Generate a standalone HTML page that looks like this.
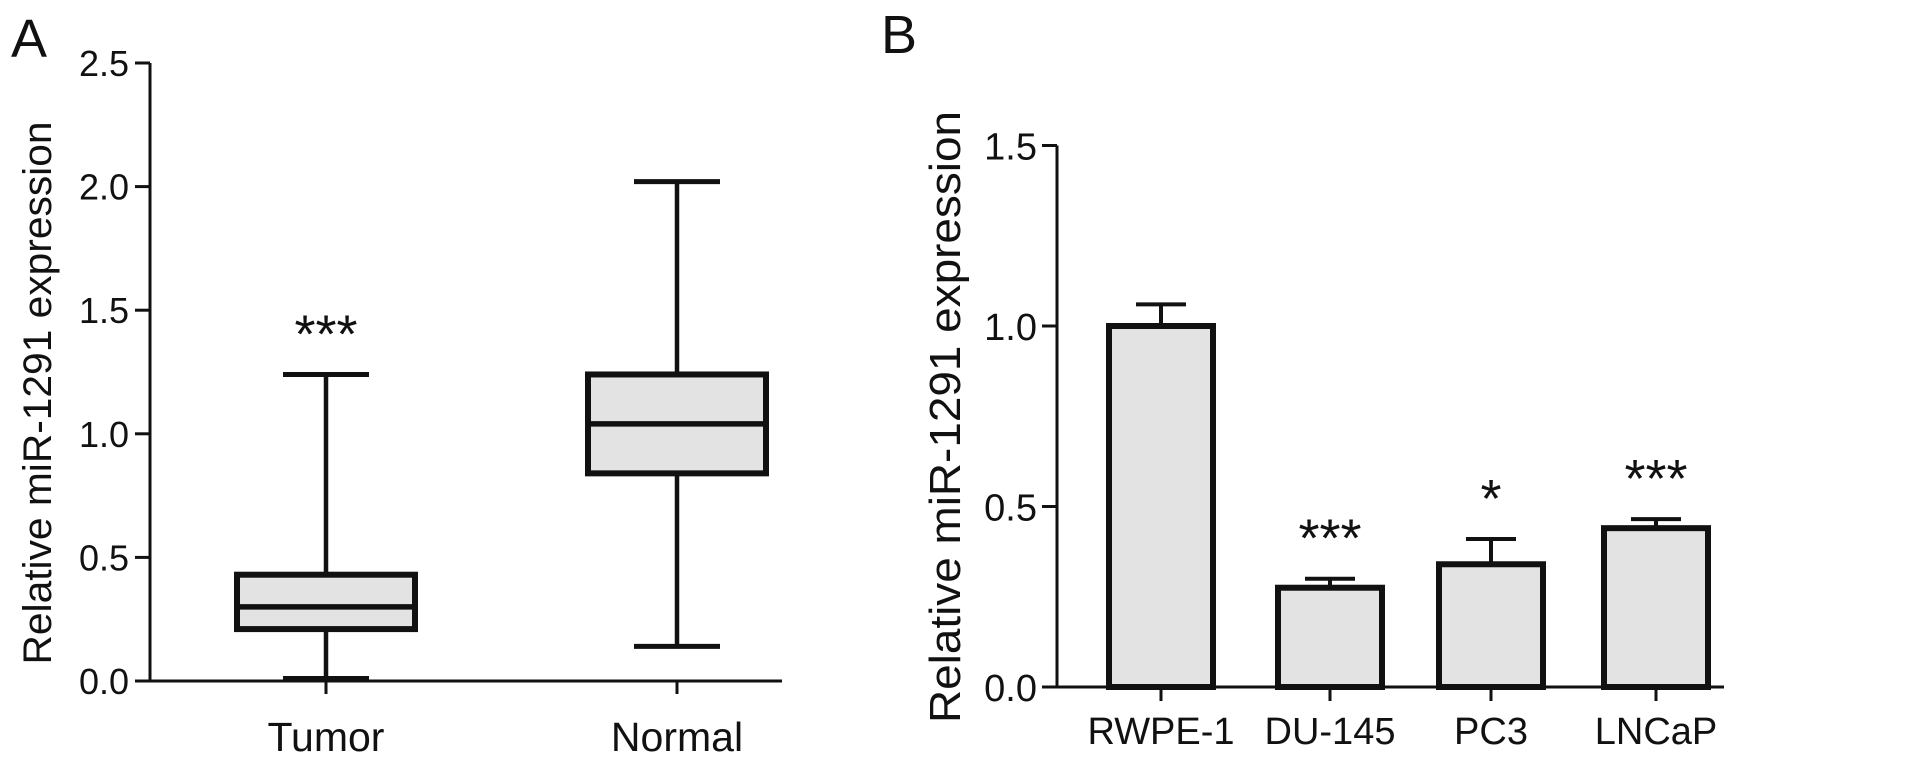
<!DOCTYPE html>
<html><head><meta charset="utf-8"><style>
html,body{margin:0;padding:0;background:#fff;}
svg{display:block;font-family:"Liberation Sans",sans-serif;}
</style></head><body>
<svg id="fig" width="1913" height="757" viewBox="0 0 1913 757">
<g id="A"></g>
<g id="B"></g>
</svg>
<script>
// Panel A data
const boxCats = ["Tumor","Normal"];
const boxMin = [0.01, 0.14];
const boxQ1 = [0.21, 0.84];
const boxMed = [0.30, 1.04];
const boxQ3 = [0.43, 1.24];
const boxMax = [1.24, 2.02];
const boxStars = ["***", ""];
const aTicks = [0, 0.5, 1.0, 1.5, 2.0, 2.5];
// Panel B data
const barCats = ["RWPE-1","DU-145","PC3","LNCaP"];
const barVals = [1.00, 0.275, 0.34, 0.44];
const barErr = [0.06, 0.025, 0.07, 0.025];
const barStars = ["", "***", "*", "***"];
const bTicks = [0, 0.5, 1.0, 1.5];

const NS="http://www.w3.org/2000/svg";
function mk(p,t,a){const e=document.createElementNS(NS,t);for(const k in a)e.setAttribute(k,a[k]);p.appendChild(e);return e;}
const C='#111';

// ---- Panel A
const gA=document.getElementById('A');
const ayA=v=>681-v*247.2;
const axA=150;
const boxCx=[326,677], boxW=178, capW=86;
let t=mk(gA,'text',{x:11,y:57,'font-size':54,fill:C});t.textContent='A';

let e=mk(gA,'line',{x1:axA,y1:ayA(0)+1.5,x2:axA,y2:ayA(2.5),stroke:C,'stroke-width':3});

e=mk(gA,'line',{x1:axA-1.5,y1:ayA(0),x2:782,y2:ayA(0),stroke:C,'stroke-width':3});

aTicks.forEach(v=>{
  const l=mk(gA,'line',{x1:axA-15,y1:ayA(v),x2:axA,y2:ayA(v),stroke:C,'stroke-width':3});
  
  const tx=mk(gA,'text',{x:129,y:ayA(v)+13,'font-size':36,'text-anchor':'end',fill:C});
  tx.textContent=v.toFixed(1);
  
});
t=mk(gA,'text',{x:0,y:0,'font-size':40,'text-anchor':'middle',fill:C,textLength:543,lengthAdjust:'spacingAndGlyphs',transform:'translate(51,393) rotate(-90)'});
t.textContent='Relative miR-1291 expression';

boxCats.forEach((c,i)=>{
  const cx=boxCx[i],x0=cx-boxW/2;
  const g=mk(gA,'g',{});
  
  mk(g,'line',{x1:cx,y1:ayA(boxMax[i]),x2:cx,y2:ayA(boxMin[i]),stroke:C,'stroke-width':4.5});
  mk(g,'line',{x1:cx-capW/2,y1:ayA(boxMax[i]),x2:cx+capW/2,y2:ayA(boxMax[i]),stroke:C,'stroke-width':5});
  mk(g,'line',{x1:cx-capW/2,y1:ayA(boxMin[i]),x2:cx+capW/2,y2:ayA(boxMin[i]),stroke:C,'stroke-width':5});
  mk(g,'rect',{x:x0,y:ayA(boxQ3[i]),width:boxW,height:ayA(boxQ1[i])-ayA(boxQ3[i]),fill:'#e3e3e3',stroke:C,'stroke-width':6});
  mk(g,'line',{x1:x0,y1:ayA(boxMed[i]),x2:x0+boxW,y2:ayA(boxMed[i]),stroke:C,'stroke-width':5.5});
  const tk=mk(gA,'line',{x1:cx,y1:ayA(0),x2:cx,y2:ayA(0)+13,stroke:C,'stroke-width':3});
  
  const lb=mk(gA,'text',{x:cx,y:751,'font-size':41,'text-anchor':'middle',fill:C});lb.textContent=c;
  
  if(boxStars[i]){const s=mk(gA,'text',{x:cx,y:ayA(boxMax[i])-53+31,'font-size':54,'text-anchor':'middle',fill:C});s.textContent=boxStars[i];
  }
});

// ---- Panel B
const gB=document.getElementById('B');
const ayB=v=>687-v*361;
const axB=1057;
const barW=104, barC=[1161,1330,1491,1656];
t=mk(gB,'text',{x:881,y:53,'font-size':54,fill:C});t.textContent='B';

e=mk(gB,'line',{x1:axB,y1:ayB(0)+1.5,x2:axB,y2:ayB(1.5),stroke:C,'stroke-width':3});

e=mk(gB,'line',{x1:axB-1.5,y1:ayB(0),x2:1724,y2:ayB(0),stroke:C,'stroke-width':3});

bTicks.forEach(v=>{
  const l=mk(gB,'line',{x1:axB-15,y1:ayB(v),x2:axB,y2:ayB(v),stroke:C,'stroke-width':3});
  
  const tx=mk(gB,'text',{x:1037,y:ayB(v)+14,'font-size':38,'text-anchor':'end',fill:C});
  tx.textContent=v.toFixed(1);
  
});
t=mk(gB,'text',{x:0,y:0,'font-size':44,'text-anchor':'middle',fill:C,textLength:612,lengthAdjust:'spacingAndGlyphs',transform:'translate(960,417) rotate(-90)'});
t.textContent='Relative miR-1291 expression';

barCats.forEach((c,i)=>{
  const cx=barC[i],top=ayB(barVals[i]),et=ayB(barVals[i]+barErr[i]);
  const g=mk(gB,'g',{});
  
  mk(g,'line',{x1:cx,y1:et,x2:cx,y2:top,stroke:C,'stroke-width':4});
  mk(g,'line',{x1:cx-25,y1:et,x2:cx+25,y2:et,stroke:C,'stroke-width':4});
  mk(g,'rect',{x:cx-barW/2,y:top,width:barW,height:ayB(0)-top,fill:'#e3e3e3',stroke:C,'stroke-width':6});
  const tk=mk(gB,'line',{x1:cx,y1:ayB(0),x2:cx,y2:ayB(0)+14,stroke:C,'stroke-width':3});
  
  const lb=mk(gB,'text',{x:cx,y:744,'font-size':38,'text-anchor':'middle',fill:C});lb.textContent=c;
  
  if(barStars[i]){const s=mk(gB,'text',{x:cx,y:et-53+31,'font-size':54,'text-anchor':'middle',fill:C});s.textContent=barStars[i];
  }
});
</script>
</body></html>
